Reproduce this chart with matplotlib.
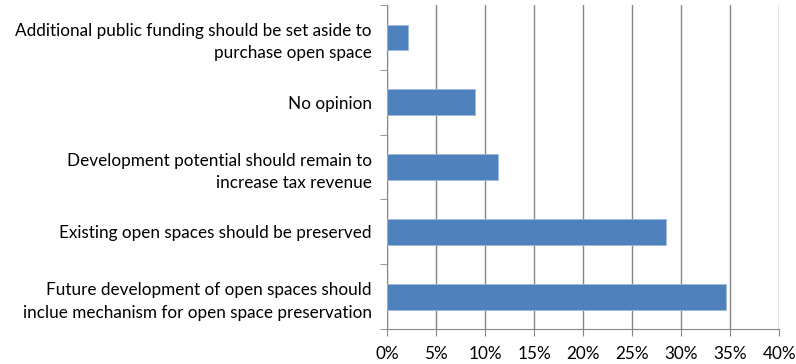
import matplotlib.pyplot as plt
import numpy as np

labels = ["Additional public funding should be set aside to\npurchase open space",
          "No opinion",
          "Development potential should remain to\nincrease tax revenue",
          "Existing open spaces should be preserved",
          "Future development of open spaces should\ninclue mechanism for open space preservation"]
values = [2.2, 9.0, 11.3, 28.5, 34.6]
xticks = [0, 5, 10, 15, 20, 25, 30, 35, 40]

plt.rcParams['font.family'] = ['Lato', 'DejaVu Sans']

fig = plt.figure(figsize=(7.96, 3.64), dpi=100)
ax = fig.add_axes([0.486, 0.096, 0.493, 0.89])

y = np.arange(len(labels))
ax.barh(y, values, height=0.4, color="#4F81BD", edgecolor="#9DB8DA", linewidth=0.6, zorder=3)

ax.set_xlim(0, 40)
ax.set_ylim(len(labels) - 0.5, -0.5)
ax.set_xticks(xticks)
ax.set_xticklabels([f"{t}%" for t in xticks], fontsize=12.3)
ax.set_yticks(y)
ax.set_yticklabels(labels, fontsize=12.3, linespacing=1.5)
ax.set_yticks(np.arange(len(labels) + 1) - 0.5, minor=True)
ax.tick_params(axis='y', which='major', length=0, pad=11)
ax.tick_params(axis='y', which='minor', length=5, color="#868686", direction='out')
ax.tick_params(axis='x', length=5, color="#868686", pad=7)
ax.grid(axis='x', color="#868686", linewidth=1.0, zorder=0)
for s in ['top', 'right']:
    ax.spines[s].set_visible(False)
for s in ['left', 'bottom']:
    ax.spines[s].set_color("#868686")

fig.savefig("out.png", dpi=100)
